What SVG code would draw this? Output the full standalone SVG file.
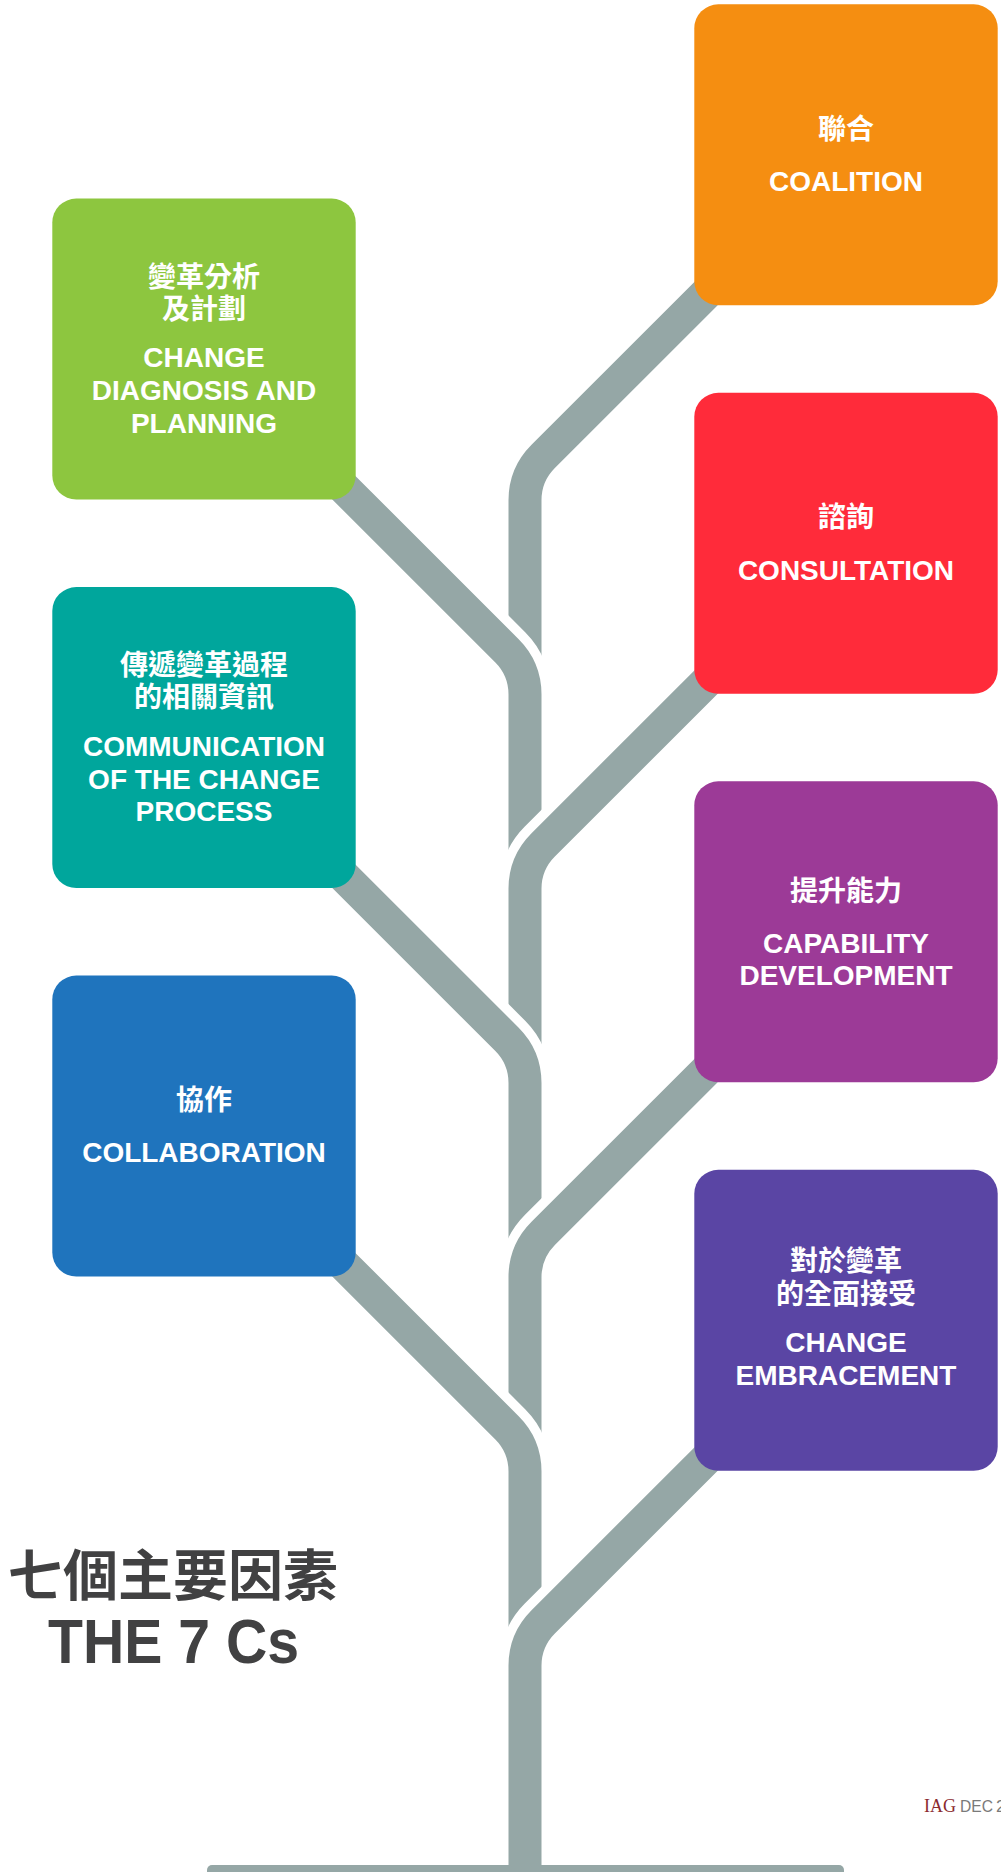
<svg xmlns="http://www.w3.org/2000/svg" xmlns:xlink="http://www.w3.org/1999/xlink" width="1001" height="1872" viewBox="0 0 1001 1872">
  <style>
    .branch { fill: none; stroke: #95a7a6; stroke-width: 33; stroke-linecap: butt; }
    .halo { fill: none; stroke: #ffffff; stroke-width: 52; stroke-linecap: butt; }
    .base { fill: #95a7a6; }
    .card { stroke: none; }
    .zh { font-family: "Noto Sans CJK TC", "Noto Sans CJK SC", sans-serif; font-weight: 700; font-size: 28px; fill: #ffffff; text-anchor: middle; }
    .en { font-family: "Liberation Sans", Arial, sans-serif; font-weight: 700; font-size: 28px; fill: #ffffff; text-anchor: middle; }
    .title-zh { font-family: "Noto Sans CJK TC", "Noto Sans CJK SC", sans-serif; font-weight: 700; font-size: 55px; fill: #414142; text-anchor: middle; }
    .title-en { font-family: "Liberation Sans", Arial, sans-serif; font-weight: 700; font-size: 63px; fill: #414142; text-anchor: middle; }
    .foot { font-family: "Liberation Sans", Arial, sans-serif; font-size: 17px; fill: #7a7a7a; }
  </style>
  <defs>
    <!-- branch centre lines: 45° from the card corner, filleted into the trunk at x=525 -->
    <path id="br1" d="M724.3 275.3 L543.2 456.4 A62 62 0 0 0 525 500.3 V774.6"/>
    <path id="br2" d="M325.7 469.55 L506.8 650.65 A62 62 0 0 1 525 694.55 V968.85"/>
    <path id="br3" d="M724.3 663.8 L543.2 844.9 A62 62 0 0 0 525 888.8 V1163.1"/>
    <path id="br4" d="M325.7 858.05 L506.8 1039.15 A62 62 0 0 1 525 1083.05 V1357.35"/>
    <path id="br5" d="M724.3 1052.3 L543.2 1233.4 A62 62 0 0 0 525 1277.3 V1551.6"/>
    <path id="br6" d="M325.7 1246.55 L506.8 1427.65 A62 62 0 0 1 525 1471.55 V1745.85"/>
    <path id="br7" d="M724.3 1440.8 L543.2 1621.9 A62 62 0 0 0 525 1665.8 V1872"/>
  </defs>

  <rect width="1001" height="1872" fill="#ffffff"/>

  <!-- tree: each branch is cut out of the one above by a white halo -->
  <g id="connectors">
    <use xlink:href="#br1" class="branch"/>
    <use xlink:href="#br2" class="halo"/>
    <use xlink:href="#br2" class="branch"/>
    <use xlink:href="#br3" class="halo"/>
    <use xlink:href="#br3" class="branch"/>
    <use xlink:href="#br4" class="halo"/>
    <use xlink:href="#br4" class="branch"/>
    <use xlink:href="#br5" class="halo"/>
    <use xlink:href="#br5" class="branch"/>
    <use xlink:href="#br6" class="halo"/>
    <use xlink:href="#br6" class="branch"/>
    <use xlink:href="#br7" class="halo"/>
    <use xlink:href="#br7" class="branch"/>
    <rect class="base" x="207" y="1865" width="637" height="20" rx="5"/>
  </g>

  <g id="coalition">
    <rect class="card" x="694.3" y="4.3" width="303.4" height="301" rx="24" fill="#f58e11"/>
    <text class="zh" x="846" y="138.8">聯合</text>
    <text class="en" x="846" y="190.8">COALITION</text>
  </g>

  <g id="change-diagnosis">
    <rect class="card" x="52.3" y="198.55" width="303.4" height="301" rx="24" fill="#8dc63f"/>
    <text class="zh" x="204" y="286.5">變革分析</text>
    <text class="zh" x="204" y="318.5">及計劃</text>
    <text class="en" x="204" y="366.5">CHANGE</text>
    <text class="en" x="204" y="400">DIAGNOSIS AND</text>
    <text class="en" x="204" y="433">PLANNING</text>
  </g>

  <g id="consultation">
    <rect class="card" x="694.3" y="392.8" width="303.4" height="301" rx="24" fill="#ff2b3a"/>
    <text class="zh" x="846" y="527.3">諮詢</text>
    <text class="en" x="846" y="579.5">CONSULTATION</text>
  </g>

  <g id="communication">
    <rect class="card" x="52.3" y="587.05" width="303.4" height="301" rx="24" fill="#00a69c"/>
    <text class="zh" x="204" y="674.5">傳遞變革過程</text>
    <text class="zh" x="204" y="707">的相關資訊</text>
    <text class="en" x="204" y="755.5">COMMUNICATION</text>
    <text class="en" x="204" y="788.7">OF THE CHANGE</text>
    <text class="en" x="204" y="821">PROCESS</text>
  </g>

  <g id="capability">
    <rect class="card" x="694.3" y="781.3" width="303.4" height="301" rx="24" fill="#9c3a97"/>
    <text class="zh" x="846" y="900.5">提升能力</text>
    <text class="en" x="846" y="952.8">CAPABILITY</text>
    <text class="en" x="846" y="985.2">DEVELOPMENT</text>
  </g>

  <g id="collaboration">
    <rect class="card" x="52.3" y="975.55" width="303.4" height="301" rx="24" fill="#1f74bd"/>
    <text class="zh" x="204" y="1110">協作</text>
    <text class="en" x="204" y="1162">COLLABORATION</text>
  </g>

  <g id="change-embracement">
    <rect class="card" x="694.3" y="1169.8" width="303.4" height="301" rx="24" fill="#5a45a4"/>
    <text class="zh" x="846" y="1270.5">對於變革</text>
    <text class="zh" x="846" y="1303.5">的全面接受</text>
    <text class="en" x="846" y="1351.8">CHANGE</text>
    <text class="en" x="846" y="1385">EMBRACEMENT</text>
  </g>

  <g id="title">
    <text class="title-zh" x="173" y="1595">七個主要因素</text>
    <text class="title-en" x="173.5" y="1663" textLength="251" lengthAdjust="spacingAndGlyphs">THE 7 Cs</text>
  </g>

  <g id="footer">
    <text x="924" y="1812" font-family="Liberation Serif, serif" font-size="19" fill="#8b2a2e" textLength="32" lengthAdjust="spacingAndGlyphs">IAG</text>
    <text class="foot" x="960" y="1812"><tspan textLength="33" lengthAdjust="spacingAndGlyphs">DEC</tspan><tspan x="996">2</tspan></text>
  </g>
</svg>
